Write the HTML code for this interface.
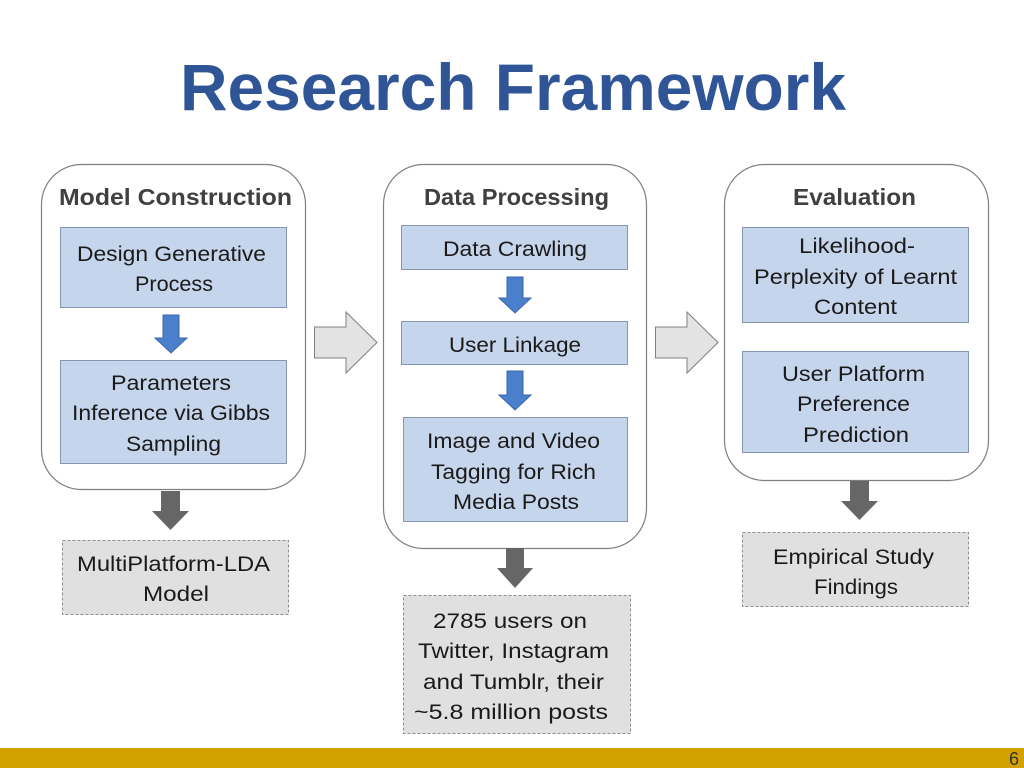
<!DOCTYPE html>
<html><head><meta charset="utf-8"><style>
html,body{margin:0;padding:0;background:#fff;}
svg{display:block;}
text{font-family:"Liberation Sans",sans-serif;}
.t{font-size:21px;fill:#1a1a1a;}
.h{font-size:23px;font-weight:bold;fill:#404040;}
</style></head><body>
<svg width="1024" height="768" viewBox="0 0 1024 768" xmlns="http://www.w3.org/2000/svg">
<text x="180" y="110" font-size="66" font-weight="bold" fill="#2F5597" textLength="666" lengthAdjust="spacingAndGlyphs">Research Framework</text>

<rect x="41.5" y="164.5" width="264" height="325" rx="40" fill="#fff" stroke="#7f7f7f" stroke-width="1.2"/>
<rect x="383.5" y="164.5" width="263" height="384" rx="40" fill="#fff" stroke="#7f7f7f" stroke-width="1.2"/>
<rect x="724.5" y="164.5" width="264" height="316" rx="40" fill="#fff" stroke="#7f7f7f" stroke-width="1.2"/>

<text class="h" x="59" y="205" textLength="233" lengthAdjust="spacingAndGlyphs">Model Construction</text>
<text class="h" x="424" y="205" textLength="185" lengthAdjust="spacingAndGlyphs">Data Processing</text>
<text class="h" x="793" y="205" textLength="123" lengthAdjust="spacingAndGlyphs">Evaluation</text>

<g fill="#C5D5EB" stroke="#8496b0" stroke-width="1">
<rect x="60.5" y="227.5" width="226" height="80"/>
<rect x="60.5" y="360.5" width="226" height="103"/>
<rect x="401.5" y="225.5" width="226" height="44"/>
<rect x="401.5" y="321.5" width="226" height="43"/>
<rect x="403.5" y="417.5" width="224" height="104"/>
<rect x="742.5" y="227.5" width="226" height="95"/>
<rect x="742.5" y="351.5" width="226" height="101"/>
</g>
<g fill="#E0E0E0" stroke="#8c8c8c" stroke-width="1" stroke-dasharray="3,2">
<rect x="62.5" y="540.5" width="226" height="74"/>
<rect x="403.5" y="595.5" width="227" height="138"/>
<rect x="742.5" y="532.5" width="226" height="74"/>
</g>

<g fill="#4A7FCC" stroke="#3a66a8" stroke-width="1">
<polygon points="163,315 179,315 179,338 187,338 171,353 155,338 163,338"/>
<polygon points="507,277 523,277 523,298 531,298 515,313 499,298 507,298"/>
<polygon points="507,371 523,371 523,395 531,395 515,410 499,395 507,395"/>
</g>
<g fill="#666">
<polygon points="161,491 180,491 180,511 189,511 170.5,530 152,511 161,511"/>
<polygon points="506,548 524,548 524,568 533,568 515,588 497,568 506,568"/>
<polygon points="850,481 869,481 869,501 878,501 859.5,520 841,501 850,501"/>
</g>
<g fill="#E3E3E3" stroke="#808080" stroke-width="1">
<polygon points="314.5,327 346,327 346,312 377,342.5 346,373 346,358 314.5,358"/>
<polygon points="655.5,327 687,327 687,312 718,342.5 687,373 687,358 655.5,358"/>
</g>

<g class="t">
<text class="t" x="77" y="261" textLength="189" lengthAdjust="spacingAndGlyphs">Design Generative</text>
<text class="t" x="135" y="291" textLength="78" lengthAdjust="spacingAndGlyphs">Process</text>
<text class="t" x="111" y="390" textLength="120" lengthAdjust="spacingAndGlyphs">Parameters</text>
<text class="t" x="72" y="420" textLength="198" lengthAdjust="spacingAndGlyphs">Inference via Gibbs</text>
<text class="t" x="126" y="451" textLength="95" lengthAdjust="spacingAndGlyphs">Sampling</text>
<text class="t" x="77" y="571" textLength="193" lengthAdjust="spacingAndGlyphs">MultiPlatform-LDA</text>
<text class="t" x="143" y="601" textLength="66" lengthAdjust="spacingAndGlyphs">Model</text>

<text class="t" x="443" y="256" textLength="144" lengthAdjust="spacingAndGlyphs">Data Crawling</text>
<text class="t" x="449" y="352" textLength="132" lengthAdjust="spacingAndGlyphs">User Linkage</text>
<text class="t" x="427" y="448" textLength="173" lengthAdjust="spacingAndGlyphs">Image and Video</text>
<text class="t" x="431" y="479" textLength="165" lengthAdjust="spacingAndGlyphs">Tagging for Rich</text>
<text class="t" x="453" y="509" textLength="126" lengthAdjust="spacingAndGlyphs">Media Posts</text>
<text class="t" x="433" y="628" textLength="154" lengthAdjust="spacingAndGlyphs">2785 users on</text>
<text class="t" x="418" y="658" textLength="191" lengthAdjust="spacingAndGlyphs">Twitter, Instagram</text>
<text class="t" x="423" y="689" textLength="181" lengthAdjust="spacingAndGlyphs">and Tumblr, their</text>
<text class="t" x="414" y="719" textLength="194" lengthAdjust="spacingAndGlyphs">~5.8 million posts</text>

<text class="t" x="799" y="253" textLength="116" lengthAdjust="spacingAndGlyphs">Likelihood-</text>
<text class="t" x="754" y="284" textLength="203" lengthAdjust="spacingAndGlyphs">Perplexity of Learnt</text>
<text class="t" x="814" y="314" textLength="83" lengthAdjust="spacingAndGlyphs">Content</text>
<text class="t" x="782" y="381" textLength="143" lengthAdjust="spacingAndGlyphs">User Platform</text>
<text class="t" x="797" y="411" textLength="113" lengthAdjust="spacingAndGlyphs">Preference</text>
<text class="t" x="803" y="442" textLength="106" lengthAdjust="spacingAndGlyphs">Prediction</text>
<text class="t" x="773" y="564" textLength="161" lengthAdjust="spacingAndGlyphs">Empirical Study</text>
<text class="t" x="814" y="594" textLength="84" lengthAdjust="spacingAndGlyphs">Findings</text>
</g>

<rect x="0" y="748" width="1024" height="20" fill="#D4A200"/>
<text x="1009" y="765" font-size="18" fill="#333">6</text>
</svg>
</body></html>
